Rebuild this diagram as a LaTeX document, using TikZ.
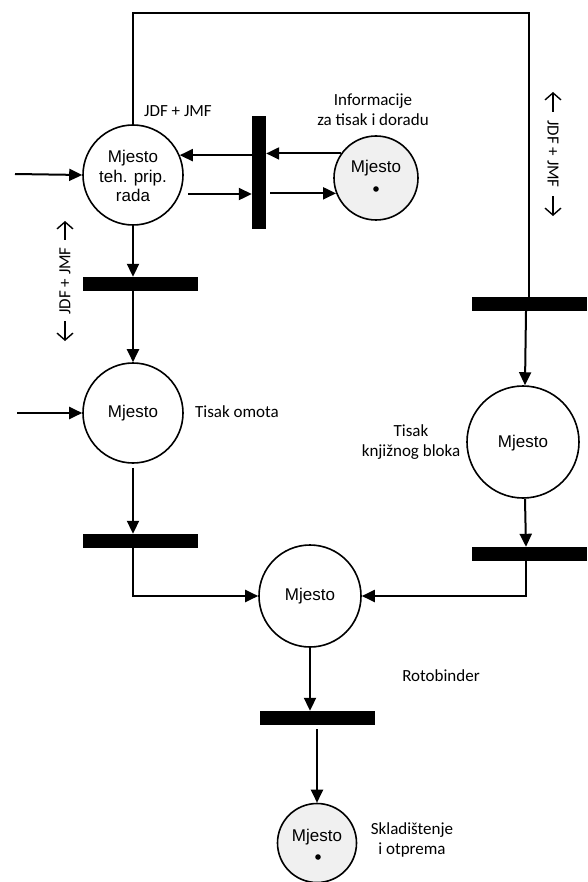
\documentclass[tikz,border=0pt]{standalone}
\usepackage{fontspec}
\setmainfont{Carlito}
\newfontfamily\placefont{Liberation Sans}
\usetikzlibrary{arrows.meta,calc}
\begin{document}
\begin{tikzpicture}[x=1pt,y=-1pt,
  place/.style={circle,draw,line width=1.6pt,inner sep=0pt,minimum size=#1},
  marked/.style={fill=black!6},
  ptext/.style={inner sep=0pt,align=center,font=\placefont\fontsize{17}{19.5}\selectfont},
  lbl/.style={inner sep=0pt,align=center,font=\fontsize{17}{20}\selectfont},
  hbar/.style={fill=black,inner sep=0pt,minimum width=115pt,minimum height=14pt},
  vbar/.style={fill=black,inner sep=0pt,minimum width=14pt,minimum height=113pt},
  arr/.style={-{Triangle[length=13pt,width=12pt]},line width=2pt},
  flow/.style={line width=1.6pt},
  dirarrow/.style={line width=1.4pt,-{Straight Barb[length=7pt,width=16pt,line width=1.4pt]}}]
\useasboundingbox (0,0) rectangle (587,882);

% places
\node[place=100pt] (A) at (133,175) {};
\node[ptext] (At) at (133,176) {Mjesto\\teh. prip.\\rada};
\node[place=84pt,marked] (C) at (376,178) {};
\node[ptext] (Ct) at (376,168) {Mjesto};
\fill (376,189) circle (2.8pt);
\node[place=100pt] (F) at (133,413) {};
\node[ptext] (Ft) at (133,413) {Mjesto};
\node[place=112pt] (D) at (523,442) {};
\node[ptext] (Dt) at (523,443) {Mjesto};
\node[place=102pt] (E) at (310,596) {};
\node[ptext] (Et) at (310,596) {Mjesto};
\node[place=79pt,marked] (G) at (317,843) {};
\node[ptext] (Gt) at (317,837) {Mjesto};
\fill (318,857) circle (2.8pt);

% transitions
\node[vbar] (B1) at (259,173) {};
\node[hbar] (B2) at (140,284) {};
\node[hbar] (B3) at (529,304) {};
\node[hbar] (B4) at (529,554) {};
\node[hbar] (B5) at (140,541) {};
\node[hbar] (B6) at (317,718) {};

% entry points
\coordinate (inA) at (15,174);
\coordinate (inF) at (17,413);
\coordinate (top) at (0,13);

% labels
\node[lbl] (l1) at (178,111) {JDF + JMF};
\node[lbl] (l2) at (373,110) {Informacije\\za tisak i doradu};
\node[lbl] (l3) at (237,412) {Tisak omota};
\node[lbl] (l4) at (411,442) {Tisak\\knjižnog bloka};
\node[lbl] (l5) at (441,676) {Rotobinder};
\node[lbl] (l6) at (412,840) {Skladištenje\\i otprema};
\node[lbl,rotate=90] (l7) at (65,281) {JDF + JMF};
\node[lbl,rotate=-90] (l8) at (553,154) {JDF + JMF};

% direction marks beside the rotated labels
\draw[dirarrow] ($(l7.east)+(0,-7)$) -- ++(0,-19);
\draw[dirarrow] ($(l7.west)+(0,6)$) -- ++(0,20);
\draw[dirarrow] ($(l8.west)+(0,-8)$) -- ++(0,-20);
\draw[dirarrow] ($(l8.east)+(0,8)$) -- ++(0,20);

% connectors
\draw[flow] (A.north) -- (A.north |- top) -| (B3.north);
\draw[arr] (inA) -- (A.west);
\draw[arr] (B1.west |- A.23.6) -- (A.23.6);
\draw[arr] (C.145) -- (B1.east |- C.145);
\draw[arr,shorten <=8pt] (A.-22.3) -- (B1.west |- A.-22.3);
\draw[arr,shorten <=4pt] (B1.east |- C.201) -- (C.201);
\draw[arr] (A.south) -- (B2.north -| A.south);
\draw[arr] (B2.south -| F.north) -- (F.north);
\draw[arr] (inF) -- (F.west);
\draw[arr,shorten <=4pt] (F.south) -- (B5.north -| F.south);
\draw[arr] (B3.south -| 526,0) -- (D.88);
\draw[arr] (D.-88) -- (B4.north -| 526,0);
\draw[arr] (B4.south -| 526,0) |- (E.east);
\draw[arr] (B5.south -| F.south) |- (E.west);
\draw[arr] (E.south) -- (B6.north -| E.south);
\draw[arr,shorten <=4pt] (B6.south -| G.north) -- (G.north);
\end{tikzpicture}
\end{document}
